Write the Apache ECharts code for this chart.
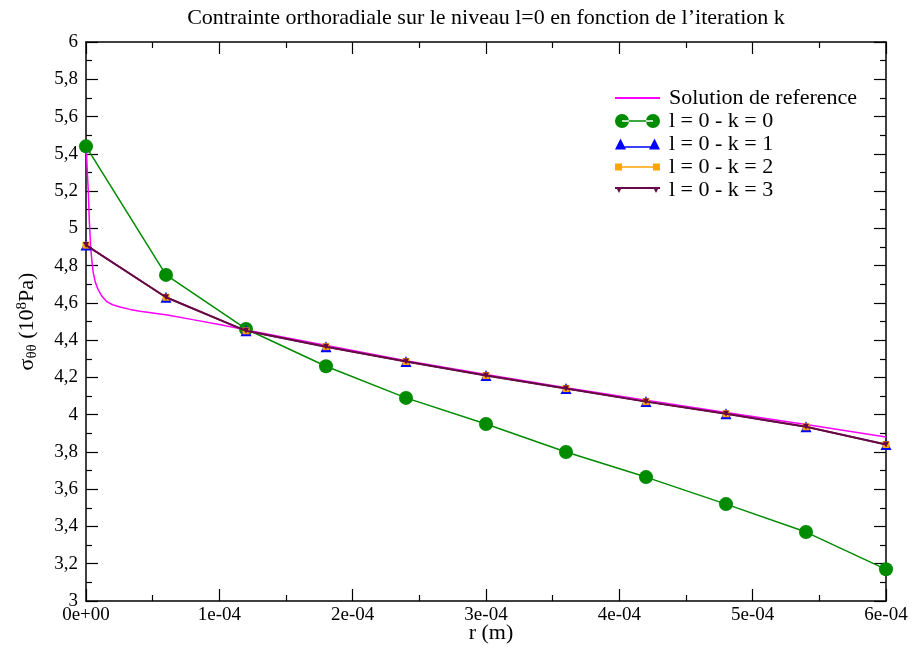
<!DOCTYPE html>
<html>
<head>
<meta charset="utf-8">
<script src="https://cdn.jsdelivr.net/npm/echarts@6/dist/echarts.min.js"></script>
<style>html,body{margin:0;padding:0;background:#fff}#c{width:912px;height:651px}</style>
</head>
<body>
<div id="c"></div>
<script>
// r in units of 1e-4 m
const rNodes = [0, 0.6, 1.2, 1.8, 2.4, 3.0, 3.6, 4.2, 4.8, 5.4, 6.0];
const k0 = [5.44, 4.75, 4.46, 4.26, 4.09, 3.95, 3.80, 3.665, 3.52, 3.37, 3.17];
const k1 = [4.91, 4.63, 4.45, 4.365, 4.285, 4.21, 4.14, 4.07, 4.005, 3.935, 3.84];
const k2 = [4.91, 4.63, 4.45, 4.365, 4.285, 4.21, 4.14, 4.07, 4.005, 3.935, 3.84];
const k3 = [4.91, 4.63, 4.45, 4.365, 4.285, 4.21, 4.14, 4.07, 4.005, 3.935, 3.84];
const refR = [0.003, 0.010, 0.017, 0.025, 0.035, 0.045, 0.055, 0.070, 0.092, 0.12, 0.155, 0.20, 0.255, 0.33, 0.405, 0.5, 0.61, 0.8, 1.0, 1.2, 1.6, 2.4, 3.0, 3.6, 4.2, 4.8, 5.4, 6.0];
const refV = [5.42, 5.30, 5.20, 5.04, 4.90, 4.82, 4.76, 4.71, 4.67, 4.635, 4.607, 4.59, 4.578, 4.565, 4.555, 4.546, 4.535, 4.51, 4.484, 4.455, 4.40, 4.29, 4.215, 4.145, 4.078, 4.012, 3.947, 3.88];
const xTickLabels = ['0e+00', '1e-04', '2e-04', '3e-04', '4e-04', '5e-04', '6e-04'];
const seriesNames = ['Solution de reference', 'l = 0 - k = 0', 'l = 0 - k = 1', 'l = 0 - k = 2', 'l = 0 - k = 3'];
const xAxisTitle = 'r (m)';

const pair = (xs, ys) => xs.map((x, i) => [x, ys[i]]);
const serif = 'Liberation Serif';

// legend icons (Grace style: marker at both ends of a short line)
const iconLine = 'path://M0,0L32,0L32,1.5L0,1.5Z';
const iconCircles = 'path://M0,7A7,7 0 1,0 14,7A7,7 0 1,0 0,7ZM31,7A7,7 0 1,0 45,7A7,7 0 1,0 31,7ZM7,6.25L38,6.25L38,7.75L7,7.75Z';
const iconTri = 'path://M0,11L5.5,0L11,11ZM34,11L39.5,0L45,11ZM5,7.7L40,7.7L40,9.2L5,9.2Z';
const iconSq = 'path://M0,0L7,0L7,7L0,7ZM38,0L45,0L45,7L38,7ZM5,2.75L40,2.75L40,4.25L5,4.25Z';
const iconDownTri = 'path://M1,0L7,0L4,6ZM38,0L44,0L41,6ZM0,0L45,0L45,2L0,2Z';

const chart = echarts.init(document.getElementById('c'));
const axisCommon = {
  axisLine: { show: true, onZero: false, lineStyle: { color: '#000', width: 1.5 } },
  axisTick: { show: true, inside: true, length: 12, lineStyle: { color: '#000', width: 1.2 } },
  minorTick: { show: true, splitNumber: 2, length: 6, lineStyle: { color: '#000', width: 1.2 } },
  splitLine: { show: false }
};
chart.setOption({
  animation: false,
  backgroundColor: '#fff',
  title: [{
    text: 'Contrainte orthoradiale sur le niveau l=0 en fonction de l\u2019iteration k',
    left: 481, top: 2, textAlign: 'center',
    textStyle: { fontFamily: serif, fontWeight: 'normal', fontSize: 22, color: '#000' }
  }, {
    text: xAxisTitle,
    left: 486, top: 617, textAlign: 'center',
    textStyle: { fontFamily: serif, fontWeight: 'normal', fontSize: 22, color: '#000' }
  }],
  grid: { left: 86, right: 26, top: 42, bottom: 50, outerBoundsMode: 'none', containLabel: false },
  legend: {
    orient: 'vertical', left: 615, top: 87, itemWidth: 45, itemHeight: 14, itemGap: 1, padding: 0,
    symbolKeepAspect: true,
    textStyle: { fontFamily: serif, fontSize: 22, color: '#000', padding: [0, 0, 0, 4] },
    data: [
      { name: seriesNames[0], icon: iconLine },
      { name: seriesNames[1], icon: iconCircles },
      { name: seriesNames[2], icon: iconTri },
      { name: seriesNames[3], icon: iconSq },
      { name: seriesNames[4], icon: iconDownTri }
    ]
  },
  xAxis: [
    Object.assign({}, axisCommon, {
      type: 'value', min: 0, max: 6, interval: 1, position: 'bottom',
      axisLabel: { fontFamily: serif, fontSize: 19, color: '#000', margin: 5,
        formatter: v => xTickLabels[Math.round(v)] }
    }),
    Object.assign({}, axisCommon, {
      type: 'value', min: 0, max: 6, interval: 1, position: 'top',
      axisLabel: { show: false }
    })
  ],
  yAxis: [
    Object.assign({}, axisCommon, {
      type: 'value', min: 3, max: 6, interval: 0.2, position: 'left',
      name: '{s|\u03c3}{sub|\u03b8\u03b8}{s| (10}{sup|8}{s|Pa)}', nameLocation: 'middle', nameGap: 46, nameRotate: 90,
      nameTextStyle: { fontFamily: serif, fontSize: 22, color: '#000',
        rich: {
          s: { fontFamily: serif, fontSize: 22, color: '#000' },
          sub: { fontFamily: serif, fontSize: 15, color: '#000', verticalAlign: 'bottom', padding: [10, 0, 0, 0] },
          sup: { fontFamily: serif, fontSize: 15, color: '#000', verticalAlign: 'top', padding: [0, 0, 10, 0] }
        } },
      axisLabel: { fontFamily: serif, fontSize: 19, color: '#000', margin: 8,
        formatter: v => String(Math.round(v * 10) / 10).replace('.', ',') }
    }),
    Object.assign({}, axisCommon, {
      type: 'value', min: 3, max: 6, interval: 0.2, position: 'right',
      axisLabel: { show: false }
    })
  ],
  series: [
    { name: seriesNames[0], type: 'line', data: pair(refR, refV), showSymbol: false, symbol: 'none',
      lineStyle: { color: '#ff00ff', width: 1.5 }, itemStyle: { color: '#ff00ff' }, z: 2 },
    { name: seriesNames[1], type: 'line', data: pair(rNodes, k0), symbol: 'circle', symbolSize: 14,
      lineStyle: { color: '#008b00', width: 1.5 }, itemStyle: { color: '#008b00' }, z: 3 },
    { name: seriesNames[2], type: 'line', data: pair(rNodes, k1), symbol: 'triangle', symbolSize: 11,
      lineStyle: { color: '#0000ff', width: 1.5 }, itemStyle: { color: '#0000ff' }, z: 4 },
    { name: seriesNames[3], type: 'line', data: pair(rNodes, k2), symbol: 'rect', symbolSize: 7,
      lineStyle: { color: '#ffa500', width: 1.5 }, itemStyle: { color: '#ffa500' }, z: 5 },
    { name: seriesNames[4], type: 'line', data: pair(rNodes, k3), symbol: 'triangle', symbolRotate: 180, symbolSize: 6,
      lineStyle: { color: '#670748', width: 2 }, itemStyle: { color: '#670748' }, z: 6 }
  ]
});
</script>
</body>
</html>
